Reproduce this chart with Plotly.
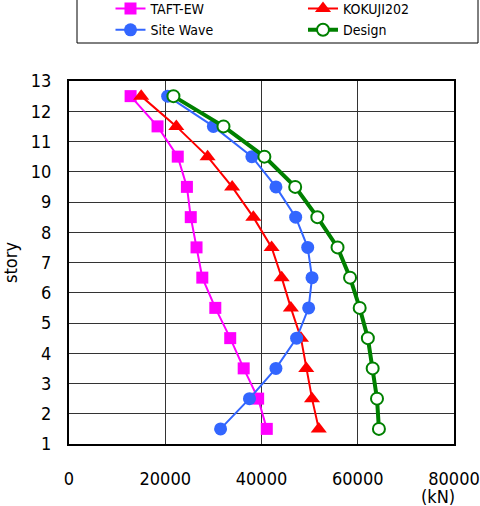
import plotly.graph_objects as go

stories = [12.5, 11.5, 10.5, 9.5, 8.5, 7.5, 6.5, 5.5, 4.5, 3.5, 2.5, 1.5]
taft_ew = [12800, 18400, 22600, 24500, 25300, 26500, 27700, 30400, 33500, 36300, 39300, 41100]
kokuji202 = [15000, 22300, 28800, 33900, 38300, 42100, 44200, 46100, 48200, 49300, 50500, 51900]
site_wave = [20500, 30000, 38000, 43000, 47100, 49600, 50500, 49800, 47300, 43000, 37500, 31500]
design = [21700, 32100, 40600, 47000, 51600, 55800, 58400, 60400, 62100, 63100, 64000, 64400]

y_ticks = list(range(1, 14))
x_ticks = [0, 20000, 40000, 60000, 80000]
x_tick_labels = ["0", "20000", "40000", "60000", "80000"]

FONT = "DejaVu Sans Condensed, DejaVu Sans, sans-serif"

fig = go.Figure()
fig.add_trace(go.Scatter(x=taft_ew, y=stories, name="TAFT-EW", mode="lines+markers",
                         line=dict(color="#FF00FF", width=2),
                         marker=dict(symbol="square", size=12, color="#FF00FF")))
fig.add_trace(go.Scatter(x=kokuji202, y=stories, name="KOKUJI202", mode="lines+markers",
                         line=dict(color="#FF0000", width=2),
                         marker=dict(symbol="triangle-up", size=14, color="#FF0000")))
fig.add_trace(go.Scatter(x=site_wave, y=stories, name="Site Wave", mode="lines+markers",
                         line=dict(color="#3366FF", width=2),
                         marker=dict(symbol="circle", size=13, color="#3366FF")))
fig.add_trace(go.Scatter(x=design, y=stories, name="Design", mode="lines+markers",
                         line=dict(color="#008000", width=4),
                         marker=dict(symbol="circle", size=12, color="white",
                                     line=dict(color="#008000", width=2))))

PH = 363.0  # plot height in px
PW = 385.0  # plot width in px

fig.update_layout(
    width=480, height=506,
    margin=dict(l=69, r=26, t=81, b=62, autoexpand=False),
    paper_bgcolor="white", plot_bgcolor="white",
    font=dict(family=FONT, size=18, color="#000000"),
    showlegend=True,
    legend=dict(orientation="h", x=(77 - 69) / PW + 0.087, xanchor="left",
                y=1 + 88 / PH, yanchor="top",
                entrywidth=0.5, entrywidthmode="fraction",
                borderwidth=0, bgcolor="rgba(0,0,0,0)",
                font=dict(family=FONT, size=14), tracegroupgap=0,
                itemwidth=30),
    xaxis=dict(range=[0, 80000], tickvals=x_ticks, ticktext=x_tick_labels,
               showgrid=True, gridcolor="#333333", gridwidth=1,
               showline=True, linecolor="#000000", linewidth=2, mirror=True,
               zeroline=False, ticks="", ticklabelstandoff=17, automargin=False),
    yaxis=dict(range=[1, 13], tickvals=y_ticks, automargin=False,
               showgrid=True, gridcolor="#333333", gridwidth=1,
               showline=True, linecolor="#000000", linewidth=2, mirror=True,
               zeroline=False, ticks="", ticklabelstandoff=12,
               title=dict(text="story", standoff=12, font=dict(size=18))),
    shapes=[dict(type="rect", xref="paper", yref="paper",
                 x0=(77 - 69) / PW, x1=(478 - 69) / PW,
                 y0=(444 - 43) / PH, y1=(444 + 10) / PH,
                 line=dict(color="#000000", width=1), fillcolor="rgba(0,0,0,0)",
                 layer="below")],
    annotations=[dict(x=80000, y=0, xref="x", yref="paper", yshift=-52, xshift=-16,
                      text="(kN)", showarrow=False, font=dict(size=18),
                      xanchor="center", yanchor="middle")],
)

fig.write_html("out.html", config={"displayModeBar": False},
               post_script="document.body.style.margin='0';")
